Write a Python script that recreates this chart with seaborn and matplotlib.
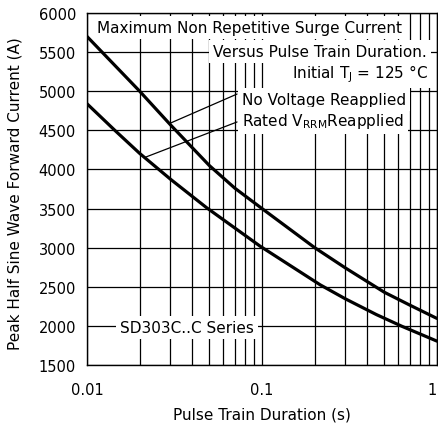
import matplotlib
matplotlib.use("Agg")
import matplotlib.pyplot as plt
import matplotlib.ticker as mticker
import seaborn as sns
import pandas as pd

# ---- data ----
duration_no_voltage = [0.01, 0.02, 0.03, 0.05, 0.07, 0.1, 0.2, 0.3, 0.5, 0.7, 1.0]
current_no_voltage = [5700, 5000, 4570, 4050, 3760, 3500, 3000, 2740, 2430, 2265, 2095]

duration_rated = [0.01, 0.0145, 0.02, 0.03, 0.0483, 0.0974, 0.215, 0.3, 0.45, 0.63, 1.0]
current_rated = [4840, 4495, 4205, 3875, 3510, 3020, 2525, 2345, 2145, 1995, 1805]

x_ticks = [0.01, 0.1, 1]
x_tick_labels = ["0.01", "0.1", "1"]
y_ticks = [1500, 2000, 2500, 3000, 3500, 4000, 4500, 5000, 5500, 6000]

# leader-line anchor points (curve point -> text)
leader_no_voltage = [(0.0298, 4590), (0.072, 4964)]
leader_rated = [(0.0212, 4150), (0.072, 4607)]

df_nv = pd.DataFrame({"duration": duration_no_voltage, "current": current_no_voltage})
df_r = pd.DataFrame({"duration": duration_rated, "current": current_rated})

sns.set_style("white")
plt.rcParams["font.family"] = ["DejaVu Sans"]
plt.rcParams["text.color"] = "black"
plt.rcParams["axes.labelcolor"] = "black"

fig = plt.figure(figsize=(4.38, 4.31), dpi=100)
ax = fig.add_axes([87 / 438, (431 - 366) / 431, 350 / 438, 352 / 431])

sns.lineplot(data=df_nv, x="duration", y="current", ax=ax, color="black",
             lw=2.3, sort=False, legend=False, zorder=2)
sns.lineplot(data=df_r, x="duration", y="current", ax=ax, color="black",
             lw=2.3, sort=False, legend=False, zorder=2)

ax.set_xscale("log")
ax.set_xlim(0.01, 1)
ax.set_ylim(1500, 6000)
ax.set_xticks(x_ticks)
ax.set_xticklabels(x_tick_labels)
ax.xaxis.set_minor_locator(mticker.LogLocator(base=10, subs=range(2, 10)))
ax.xaxis.set_minor_formatter(mticker.NullFormatter())
ax.set_yticks(y_ticks)

ax.set_axisbelow(True)
ax.grid(True, which="both", axis="x", color="black", lw=0.9)
ax.grid(True, which="major", axis="y", color="black", lw=0.9)

ax.tick_params(axis="both", which="both", length=0, labelsize=10.5, colors="black")
ax.tick_params(axis="y", pad=8)
ax.tick_params(axis="x", pad=12)
ax.get_xticklabels()[-1].set_horizontalalignment("right")
for s in ax.spines.values():
    s.set_color("black")
    s.set_linewidth(1.0)

ax.set_xlabel("Pulse Train Duration (s)", fontsize=11, color="black")
ax.set_ylabel("Peak Half Sine Wave Forward Current (A)", fontsize=11, color="black")
ax.xaxis.set_label_coords(0.5, -0.118)
ax.yaxis.set_label_coords(-0.185, 0.49)

box = dict(boxstyle="square,pad=0.25", fc="white", ec="none")
fs = 11
ax.text(0.028, 0.946, "Maximum Non Repetitive Surge Current", transform=ax.transAxes,
        ha="left", va="baseline", fontsize=fs, bbox=box, zorder=3)
ax.text(0.971, 0.878, "Versus Pulse Train Duration.", transform=ax.transAxes,
        ha="right", va="baseline", fontsize=fs, bbox=box, zorder=3)
ax.text(0.974, 0.818, r"Initial T$_\mathregular{J}$ = 125 °C", transform=ax.transAxes,
        ha="right", va="baseline", fontsize=fs, bbox=box, zorder=3)
ax.text(0.443, 0.7415, "No Voltage Reapplied", transform=ax.transAxes,
        ha="left", va="baseline", fontsize=fs, bbox=box, zorder=3)
ax.text(0.443, 0.682, r"Rated V$_\mathregular{RRM}$Reapplied", transform=ax.transAxes,
        ha="left", va="baseline", fontsize=fs, bbox=box, zorder=3)
ax.text(0.094, 0.094, "SD303C..C Series", transform=ax.transAxes,
        ha="left", va="baseline", fontsize=fs, bbox=box, zorder=3)

for (p0, p1) in (leader_no_voltage, leader_rated):
    ax.annotate("", xy=p0, xytext=p1, xycoords="data", textcoords="data",
                arrowprops=dict(arrowstyle="-", color="black", lw=0.9,
                                shrinkA=0, shrinkB=0), zorder=4)

fig.savefig("out.png", dpi=100, facecolor="white")
